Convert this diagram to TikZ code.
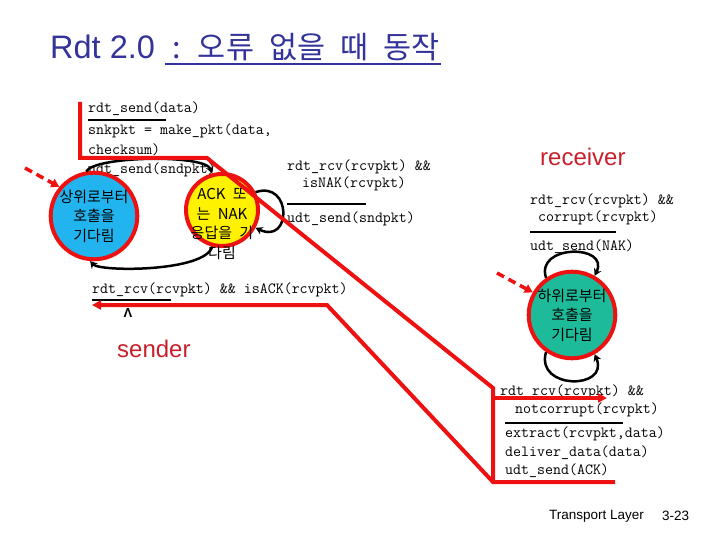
\documentclass[tikz,border=0pt]{standalone}
\usepackage{fontspec}
\newfontfamily\cjk{Noto Sans CJK KR}
\newfontfamily\cjktitle[WordSpace=2.2]{Noto Sans CJK KR}
\newfontfamily\slidefont{Liberation Sans}
\usetikzlibrary{arrows.meta}
\definecolor{titleblue}{HTML}{333399}
\definecolor{labelred}{HTML}{C8202A}
\definecolor{flowred}{HTML}{EE1111}
\definecolor{callblue}{HTML}{22B4EE}
\definecolor{rcvgreen}{HTML}{1DBB99}
\tikzset{
	code/.style={anchor=west,inner sep=0pt,font=\fontsize{15.5}{18}\selectfont\ttfamily},
	state/.style={circle,draw=flowred,line width=4pt,minimum size=72pt,inner sep=0pt,align=center,font=\fontsize{15}{19.5}\selectfont\cjk},
	guard/.style={line width=2.5pt},
	trans/.style={line width=2.5pt,-{Stealth[length=7pt,width=8pt]}},
	flow/.style={draw=flowred,line width=4pt},
	flowtip/.style={-{Triangle[length=9pt,width=9pt]}},
	entry/.style={draw=flowred,line width=3.5pt,dash pattern=on 8pt off 5pt,-{Triangle[length=8pt,width=9pt]}},
	side/.style={anchor=west,inner sep=0pt,text=labelred,font=\fontsize{24}{28}\selectfont\slidefont}
}
\begin{document}
\begin{tikzpicture}[x=1pt,y=-1pt]
				\useasboundingbox (0,0) rectangle (720,540);
				\node[anchor=base west,inner sep=0pt,text=titleblue,font=\fontsize{32.5}{38}\selectfont\slidefont] (title) at (50,59) {Rdt 2.0};
				\node[anchor=base west,inner sep=0pt,text=titleblue,font=\fontsize{30.5}{36}\selectfont\cjktitle] (subtitle) at (172,59) {: 오류 없을 때 동작};
				\draw[titleblue,line width=1.5pt](165,64)--(441,64);
				% sender
				\node[code] (senddata) at (88,109) {rdt\_send(data)};
				\draw[guard](88,120)--(166,120);
				\node[code] (mkpkt) at (88,131) {snkpkt = make\_pkt(data,};
				\node[code] (cksum) at (88,150) {checksum)};
				\node[code] (sendpkt) at (88,170) {udt\_send(sndpkt)};
				\node[code] (naka) at (287,167) {rdt\_rcv(rcvpkt) \&\&};
				\node[code] (nakb) at (302,184) {isNAK(rcvpkt)};
				\draw[guard](287,204)--(366,204);
				\node[code] (resend) at (287,219) {udt\_send(sndpkt)};
				\node[code] (gotack) at (92,290) {rdt\_rcv(rcvpkt) \&\& isACK(rcvpkt)};
				\draw[guard](92,300)--(171,300);
				\node[inner sep=0pt,font=\fontsize{13}{15}\selectfont\slidefont\bfseries] (noaction) at (128,313) {Λ};
				\node[side] (sender) at (117,349) {sender};
				% receiver
				\node[side] (receiver) at (540,157) {receiver};
				\node[code] (corra) at (530,201) {rdt\_rcv(rcvpkt) \&\&};
				\node[code] (corrb) at (538,218) {corrupt(rcvpkt)};
				\draw[guard](530,232)--(616,232);
				\node[code] (sendnak) at (530,247) {udt\_send(NAK)};
				\node[code] (oka) at (500,392) {rdt\_rcv(rcvpkt) \&\&};
				\node[code] (okb) at (515,410) {notcorrupt(rcvpkt)};
				\draw[guard](505,423)--(623,423);
				\node[code] (extract) at (505,434) {extract(rcvpkt,data)};
				\node[code] (deliver) at (505,453) {deliver\_data(data)};
				\node[code] (sendack) at (505,471) {udt\_send(ACK)};
				% states
				\node[state,fill=callblue] (waitcall) at (94,216) {상위로부터\\호출을\\기다림};
				\node[state,fill=yellow] (waitack) at (222,210) {};
				\node[inner sep=0pt,align=center,font=\fontsize{15}{19.5}\selectfont\cjk] (acktext) at (222,224) {ACK 또\\는 NAK\\응답을 기\\다림};
				\node[state,fill=rcvgreen] (waitrcv) at (572,315) {하위로부터\\호출을\\기다림};
				\draw[trans](waitcall.100)..controls(95,156)and(205,154)..(waitack.105);
				\draw[trans](waitack.255)..controls(205,272)and(100,272)..(waitcall.265);
				\draw[trans](waitack.28)..controls(292,180)and(292,245)..(waitack.-28);
				\draw[trans](waitrcv.125)..controls(535,244)and(610,244)..(waitrcv.60);
				\draw[trans](waitrcv.235)..controls(535,390)and(610,390)..(waitrcv.300);
				% packet flow
				\coordinate (flowstart) at (80,102);
				\coordinate (flowbend) at (207,158);
				\coordinate (flowdown) at (493,388);
				\coordinate (flowfoot) at (493,482);
				\coordinate (flowsplit) at (493,398);
				\coordinate (flowin) at (607,398);
				\coordinate (ackstart) at (615,482);
				\coordinate (ackbend) at (327,305);
				\coordinate (ackend) at (92,305);
				\draw[flow](flowstart)|-(flowbend)--(flowdown)--(flowfoot);
				\draw[flow,flowtip](flowsplit)--(flowin);
				\draw[flow,flowtip](ackstart)--(flowfoot)--(ackbend)--(ackend);
				\coordinate (callstart) at (25,168);
				\coordinate (rcvstart) at (497,273);
				\draw[entry](callstart)--(waitcall.140);
				\draw[entry](rcvstart)--(waitrcv.150);
				\node[anchor=west,inner sep=0pt,font=\fontsize{13.5}{16}\selectfont\slidefont] (footer) at (549,516) {Transport Layer};
				\node[anchor=west,inner sep=0pt,font=\fontsize{13.5}{16}\selectfont\slidefont] (pageno) at (662,516) {3-23};
			\end{tikzpicture}
\end{document}
